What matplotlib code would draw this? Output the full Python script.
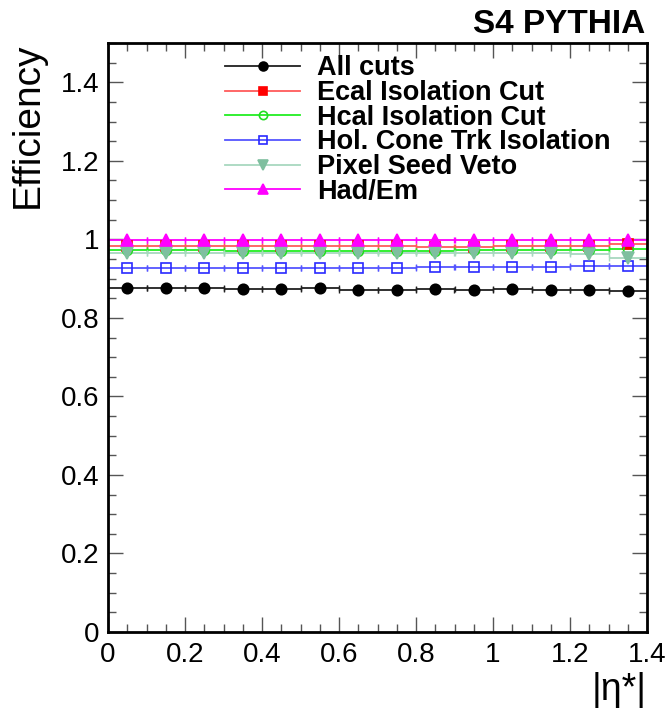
import numpy as np
import matplotlib
matplotlib.use("Agg")
import matplotlib.pyplot as plt
from matplotlib.lines import Line2D
from matplotlib.ticker import MultipleLocator

plt.rcParams["font.family"] = ["Liberation Sans", "DejaVu Sans"]

# |eta*| bins, width 0.1 from 0 to 1.4
bin_edges = np.round(np.arange(0.0, 1.41, 0.1), 2)
bin_centers = 0.5 * (bin_edges[:-1] + bin_edges[1:])

eff_all = [0.877, 0.877, 0.875, 0.873, 0.873, 0.875, 0.871,
           0.871, 0.873, 0.870, 0.873, 0.872, 0.872, 0.869]
eff_ecal = [0.983, 0.983, 0.982, 0.982, 0.982, 0.982, 0.982,
            0.982, 0.981, 0.981, 0.982, 0.982, 0.984, 0.989]
eff_hcal = [0.972, 0.972, 0.972, 0.971, 0.971, 0.971, 0.971,
            0.971, 0.971, 0.972, 0.972, 0.973, 0.973, 0.975]
eff_trk = [0.928, 0.928, 0.928, 0.928, 0.927, 0.928, 0.926,
           0.928, 0.929, 0.929, 0.930, 0.930, 0.931, 0.932]
eff_pixel = [0.966, 0.966, 0.965, 0.965, 0.965, 0.965, 0.965,
             0.965, 0.964, 0.964, 0.964, 0.964, 0.963, 0.952]
eff_hadem = [0.998, 0.998, 0.998, 0.998, 0.998, 0.998, 0.998,
             0.998, 0.998, 0.998, 0.998, 0.998, 0.999, 0.999]

series_labels = ["All cuts", "Ecal Isolation Cut", "Hcal Isolation Cut",
                 "Hol. Cone Trk Isolation", "Pixel Seed Veto", "Had/Em"]

# (values, line colour, marker, face colour, edge colour, marker size)
styles = [
    (eff_all, "#202020", "o", "black", "black", 7.5),
    (eff_ecal, "#ff5a5a", "s", "red", "red", 7.5),
    (eff_hcal, "#22ee22", "o", "none", "#22dd22", 7.0),
    (eff_trk, "#5555ff", "s", "none", "#2a2aff", 7.5),
    (eff_pixel, "#a8d8bf", "v", "#7fbf9f", "#7fbf9f", 8.0),
    (eff_hadem, "#ff00ff", "^", "#ff00ff", "#ff00ff", 8.0),
]

fig = plt.figure(figsize=(6.7, 7.1), dpi=100)
ax = fig.add_axes([108 / 670, 78 / 710, 539 / 670, 589 / 710])

handles = []
for (vals, lc, mk, mfc, mec, ms), lab in zip(styles, series_labels):
    ax.errorbar(bin_centers, vals, xerr=0.05, fmt="none", ecolor=lc,
                elinewidth=1.3, capsize=2, capthick=1.0, zorder=2)
    ax.plot(bin_centers, vals, linestyle="none", marker=mk, markersize=ms,
            markerfacecolor=mfc, markeredgecolor=mec, markeredgewidth=1.2,
            zorder=3)
    handles.append(Line2D([], [], color=lc, lw=1.3, marker=mk,
                          markersize=ms * 0.85, markerfacecolor=mfc,
                          markeredgecolor=mec, markeredgewidth=1.2))

ax.set_xlim(0, 1.4)
ax.set_ylim(0, 1.5)
ax.xaxis.set_major_locator(MultipleLocator(0.2))
ax.xaxis.set_minor_locator(MultipleLocator(0.05))
ax.yaxis.set_major_locator(MultipleLocator(0.2))
ax.yaxis.set_minor_locator(MultipleLocator(0.05))
ax.xaxis.set_major_formatter(lambda v, p: f"{v:g}")
ax.yaxis.set_major_formatter(lambda v, p: f"{v:g}")

ax.tick_params(which="both", direction="in", top=True, right=True,
               labelsize=20, width=1.0, color="#555555")
ax.tick_params(which="major", length=11)
ax.tick_params(which="minor", length=6)
ax.tick_params(axis="x", pad=7)
ax.tick_params(axis="y", pad=6)
for sp in ax.spines.values():
    sp.set_linewidth(2.0)

ax.set_ylabel("Efficiency", fontsize=28, loc="top")
ax.yaxis.set_label_coords(-0.115, 1.0)
ax.set_xlabel("|η*|", fontsize=27, loc="right")
ax.xaxis.set_label_coords(1.0, -0.068)

ax.legend(handles, series_labels, loc="upper left",
          bbox_to_anchor=(0.175, 1.018), frameon=False,
          prop={"weight": "bold", "size": 19.5}, handlelength=2.75,
          handletextpad=0.65, labelspacing=-0.05, borderpad=0.35)

fig.text(645 / 670, 1 - 33 / 710, "S4 PYTHIA", fontsize=24,
         fontweight="bold", ha="right", va="baseline")

fig.savefig("out.png", dpi=100)
